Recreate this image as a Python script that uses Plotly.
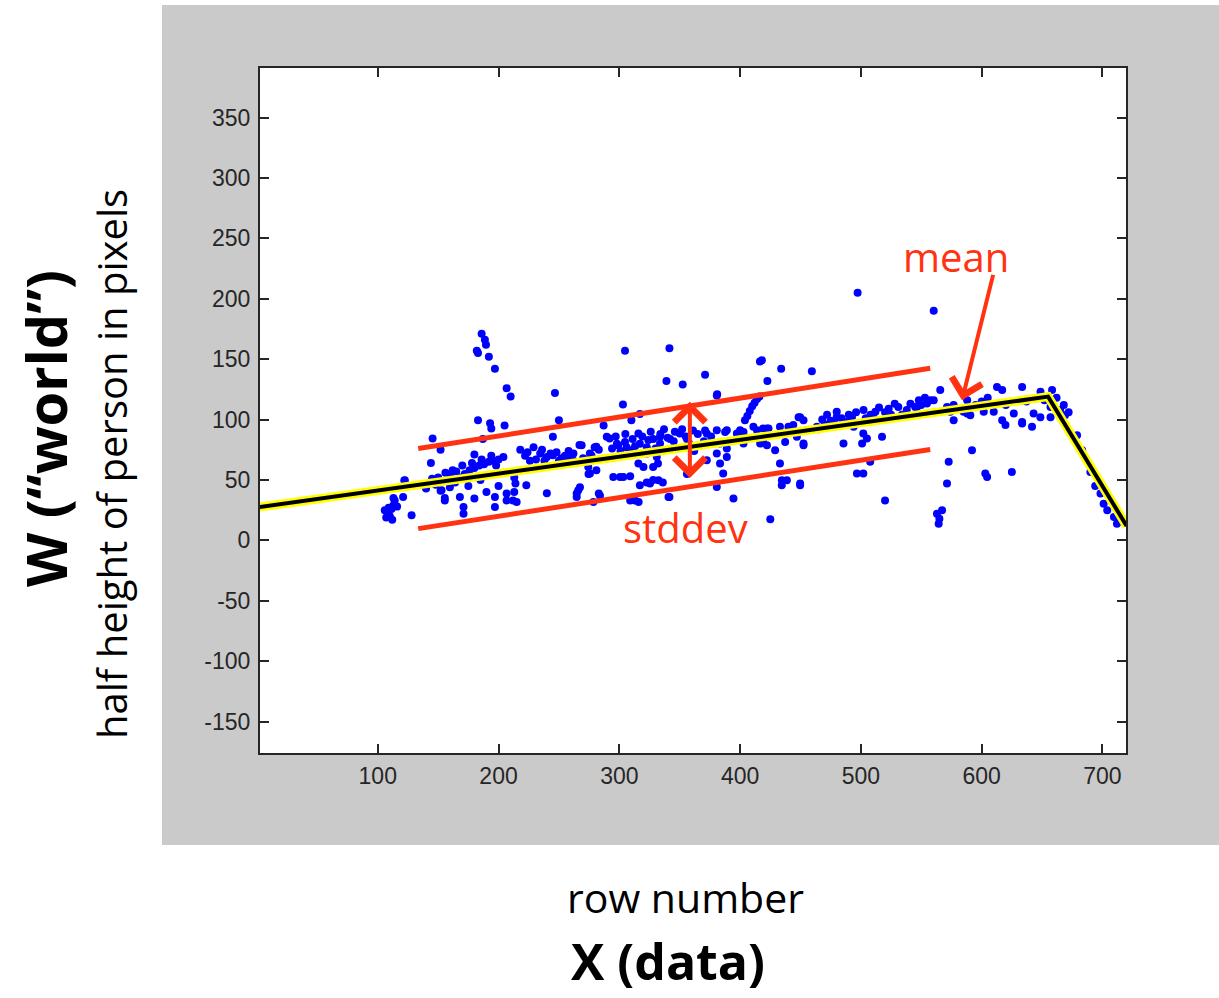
import plotly.graph_objects as go

# ---- data: (row number, half height in pixels) ----
ROW = [105.8,108.6,111.4,114,121,110,112,107,113,116,109,122.4,128,140,145,140,152,155.5,145.4,152,144,122,113,
       186,188.7,189.6,182,183,192,197,206.7,210,246.7,
       183,193,194,205,187,250,245,180,
       172,176,180,184,188,192,196,200,204,168,165,160,170,178,186,194,198,
       212,213,214,213,218,229,234.5,240,245,222,226,238,250,255,
       159.7,152.8,155.5,168,180,171,171,197,197,
       223,240,206.7,215,206.7,200,190,185,175,
       148,150,156,158,162,164,
       224,231,236,243,248,252,258,262,270,277,283,
       304.7,341.5,339,352.5,371,303,381,
       259,267,275.6,279.6,281,283,274.5,
       289.6,298,306,317,322.7,328,333.7,350,361,371,
       295,303.3,309,317,322.7,328,332,336,
       266,264.7,284,313,316,341.5,356,
       287,310,317,
       292,299,304.7,309,315.8,315.8,320,328,324,331,333.7,
       268.8,256.4,262,281,275.7,274.3,
       264.7,267.4,278.5,309,300.6,
       340.7,325.4,332.4,
       372.4,380.7,389,383.4,386,380.7,394.5,
       340,345,355,365,358,348,362,370,376,
       294,297,301,305,311,313,319,323,326,330,334,337,342,346,352,356,
       416.4,418,434,459.4,422.6,380.7,
       404,406,408,410,412,414,416,
       380.7,389,400,411,419,423.5,433,441.4,448.4,452.5,455.3,463.6,
       419,429,433,438.7,434.5,449.7,452.5,425,
       372.4,387.6,397.3,402.8,414,422.2,440,
       383.4,389,402.8,416.6,422.2,
       449.7,444,452.5,437.3,447,434.6,449.7,
       480,492.6,502.2,512,523,531,545,
       480,494,502,505,501,517.5,
       485.6,496.7,502,507.7,520,
       497.3,560.3,
       470,475,465,488,510,525,538,550,
       468,472,478,484,490,496,504,508,515,520,528,534,541,548,553,
       546.5,554.7,557.5,565.7,571.3,576.8,588,588,576.8,
       560.3,574,585,590.6,601.7,
       612.7,617,633.5,648.7,658.3,
       610,617,619.7,626.6,633.5,641.7,643,648.6,657,657,665,669,633.5,
       679,683.2,690,698.4,701,709.5,712,704,714,694,
       572.7,571.3,567.2,563,564.4,565,592,603,604.5,625,
       595,600,605,620,637,652,662,668,672]
HALF = [25,22,26,33,36,20,17,19,29,28,27,49.7,20.7,44,51,43,41,35,84.3,75,64,49.5,35,
        171,166,162,157,155,152,142,126,119,122,
        99.5,97,92.6,95,84,99.5,85.7,71,
        55,58,60,62,63,65,66,67,69,52,57,55,62,64,67,70,62,
        33,40,47,52,75,77,72,69,70.5,70,66,66,66,70,
        44,41.5,33,36,34.6,27.6,22,36,27.6,
        45.6,39,38.7,31.8,33,45,40,50,45,
        46,52,56,49,58,48,
        73,67,75,72,73,68,74,66,68,70,75,
        157,159,132,129,137,112.5,121,
        70,79,72,77,58,38.7,55,
        85.7,80,77,80,77,84,85.7,88.5,91,91,
        52.5,52.5,53,45.6,48,50,63.6,48,
        41.5,36,37,33,31.8,36,55,
        95,99.5,104.5,
        84.3,78.8,81.5,74.6,88.5,63.6,60.8,60.8,83,69,80.2,
        78.8,69,72,77.4,55.3,60.8,
        38.7,44,31.8,33,52.5,
        36,47,49.7,
        66.3,71.9,69,63.6,55.3,44.2,34.6,
        85,82,86,88,80,76,74,82,86,
        76,86,74,88,84,78,86,72,90,76,88,92,84,90,92,84,
        148,149,142,140,132,120,
        99.5,103,107,111,114,117,119,
        91.2,91.2,91.2,94,92.6,92.6,94,91.2,102,99.5,91.2,94,
        83,74.6,63.6,49.7,45.6,45.6,78.8,17.4,
        88.5,89.8,88.5,89.8,91.2,92.6,94,
        80.2,76,80.2,80.2,78.8,
        102,95.4,80.2,81.5,85.7,49.7,47,
        106.4,102.2,108,106.4,109,110.5,110.5,
        102.2,94,88.5,84.3,80.2,85.7,
        80.2,55.3,55.3,65,33,
        205,190,
        96,99,92,98,103,104,108,112,
        100,104,98,101,104,106,101,104,110,106,113,104,113,116,118,
        110.5,113.3,116,124.4,110.5,112,116,105,99.5,
        116,106.4,106.4,103.6,106.4,
        127,124.4,127,123,124.4,
        106.4,99.5,95.4,105,98,94,105,102,110.5,102,108,103.6,96.7,
        87,74.6,56.6,38.7,30.4,19.3,13.8,25,16,45,
        65,47,24.9,22,13.8,18,74.6,55.3,52.5,56.6,
        112,115,118,112,115,116,118,112,106]

# fitted mean curve (piecewise linear)
MEAN_ROW = [1, 655, 720]
MEAN_HALF = [27.4, 119, 12]

# stddev band lines
BAND_ROW = [133.5, 557.4]
BAND_UPPER = [76, 142.4]
BAND_LOWER = [9.7, 75.2]

X_TICKS = [100, 200, 300, 400, 500, 600, 700]
Y_TICKS = [-150, -100, -50, 0, 50, 100, 150, 200, 250, 300, 350]

RED = "#FF3311"

fig = go.Figure()

fig.add_trace(go.Scatter(x=ROW, y=HALF, mode="markers",
                         marker=dict(color="#0000FF", size=8, line=dict(width=0)),
                         showlegend=False, hoverinfo="skip"))
fig.add_trace(go.Scatter(x=MEAN_ROW, y=MEAN_HALF, mode="lines",
                         line=dict(color="#FFFF00", width=9),
                         showlegend=False, hoverinfo="skip"))
fig.add_trace(go.Scatter(x=MEAN_ROW, y=MEAN_HALF, mode="lines",
                         line=dict(color="#000000", width=4),
                         showlegend=False, hoverinfo="skip"))

shapes = [
    dict(type="rect", xref="paper", yref="paper", x0=-0.1132, x1=1.11, y0=-0.1343, y1=1.092,
         fillcolor="#CACACA", line=dict(width=0), layer="below"),
    dict(type="rect", xref="paper", yref="paper", x0=0, x1=1, y0=0, y1=1,
         fillcolor="#FFFFFF", line=dict(width=0), layer="below"),
    dict(type="line", xref="x", yref="y", x0=BAND_ROW[0], x1=BAND_ROW[1],
         y0=BAND_UPPER[0], y1=BAND_UPPER[1], line=dict(color=RED, width=5)),
    dict(type="line", xref="x", yref="y", x0=BAND_ROW[0], x1=BAND_ROW[1],
         y0=BAND_LOWER[0], y1=BAND_LOWER[1], line=dict(color=RED, width=5)),
]

annotations = [
    # double arrow for stddev
    dict(x=358.4, y=114.7, ax=358.4, ay=50.3, xref="x", yref="y", axref="x", ayref="y",
         text="", showarrow=True, arrowhead=4, startarrowhead=4, arrowside="end+start",
         arrowsize=1.5, startarrowsize=1.5, arrowwidth=4, arrowcolor=RED),
    # mean arrow
    dict(x=583.7, y=116, ax=609.8, ay=221, xref="x", yref="y", axref="x", ayref="y",
         text="", showarrow=True, arrowhead=4, arrowsize=1.5, arrowwidth=4, arrowcolor=RED),
    dict(x=579, y=235, xref="x", yref="y", text="mean", showarrow=False,
         xanchor="center", yanchor="middle",
         font=dict(family="Open Sans", size=40, color=RED)),
    dict(x=355.2, y=10.8, xref="x", yref="y", text="stddev", showarrow=False,
         xanchor="center", yanchor="middle",
         font=dict(family="Open Sans", size=40, color=RED)),
    # outer titles
    dict(x=-0.2483, y=0.4745, xref="paper", yref="paper", text="<b>W (“world”)</b>",
         textangle=-90, showarrow=False, xanchor="center", yanchor="middle",
         font=dict(family="Open Sans", size=56, color="black")),
    dict(x=-0.1709, y=0.4219, xref="paper", yref="paper", text="half height of person in pixels",
         textangle=-90, showarrow=False, xanchor="center", yanchor="middle",
         font=dict(family="Open Sans", size=40, color="black")),
    dict(x=0.4908, y=-0.2102, xref="paper", yref="paper", text="row number",
         showarrow=False, xanchor="center", yanchor="middle",
         font=dict(family="Open Sans", size=41, color="black")),
    dict(x=0.4711, y=-0.3036, xref="paper", yref="paper", text="<b>X (data)</b>",
         showarrow=False, xanchor="center", yanchor="middle",
         font=dict(family="Open Sans", size=50, color="black")),
]

axis_common = dict(showline=True, linecolor="#262626", linewidth=2, mirror="allticks",
                   ticks="inside", ticklen=9, tickwidth=1.5, tickcolor="#262626",
                   showgrid=False, zeroline=False,
                   tickfont=dict(family="Liberation Sans", size=23, color="#262626"))

fig.update_layout(
    width=1219, height=998,
    margin=dict(l=260, r=93, t=68, b=245),
    paper_bgcolor="white", plot_bgcolor="white",
    xaxis=dict(range=[2.5, 719.5], tickvals=X_TICKS, ticktext=[str(v) for v in X_TICKS],
               ticklabelstandoff=1, **axis_common),
    yaxis=dict(range=[-176, 391], tickvals=Y_TICKS, ticktext=[str(v) for v in Y_TICKS],
               ticklabelstandoff=3, **axis_common),
    shapes=shapes, annotations=annotations, showlegend=False,
)

fig.write_html("out.html")
